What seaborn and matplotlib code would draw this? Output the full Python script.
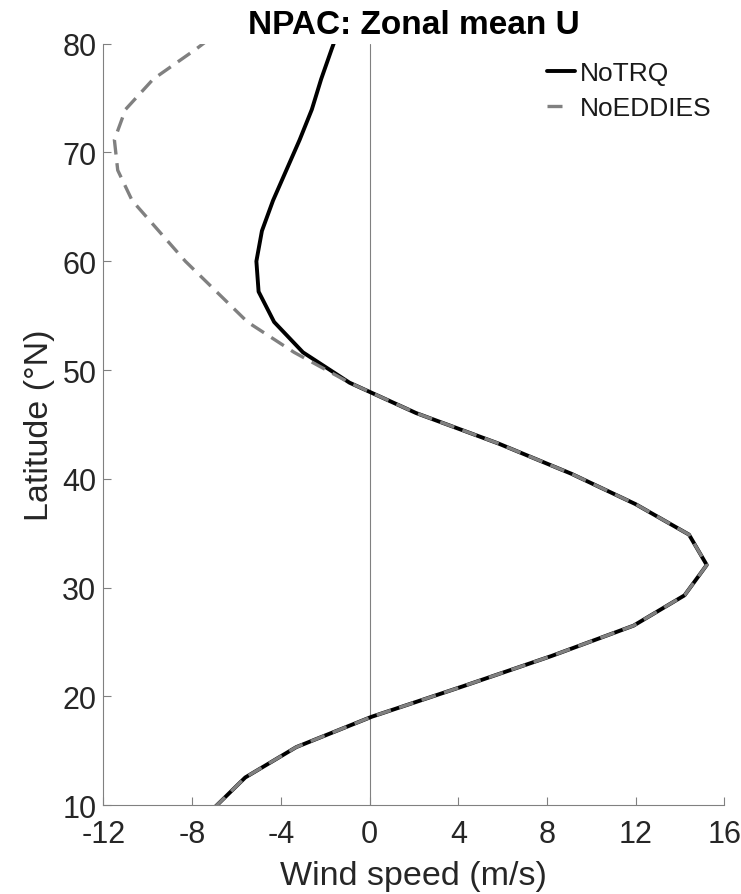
import numpy as np
import pandas as pd
import matplotlib
matplotlib.use("Agg")
import matplotlib.pyplot as plt
import seaborn as sns

# Gaussian-grid latitudes (deg N)
lat = [9.77, 12.56, 15.35, 18.14, 20.93, 23.72, 26.51, 29.30, 32.09, 34.88,
       37.67, 40.47, 43.26, 46.05, 48.84, 51.63, 54.42, 57.21, 60.00, 62.79,
       65.58, 68.37, 71.16, 73.95, 76.74, 79.53, 82.32]
# Zonal mean U (m/s)
u_notrq = [-7.0, -5.6, -3.3, 0.1, 4.2, 8.2, 11.9, 14.2, 15.2, 14.4,
           12.0, 9.1, 5.8, 2.1, -0.9, -3.0, -4.3, -5.0, -5.1, -4.85,
           -4.35, -3.75, -3.15, -2.6, -2.18, -1.7, -1.2]
u_noeddies = [-7.0, -5.6, -3.3, 0.1, 4.2, 8.2, 11.9, 14.2, 15.2, 14.4,
              12.0, 9.1, 5.8, 2.1, -0.9, -3.4, -5.5, -6.9, -8.3, -9.5,
              -10.7, -11.35, -11.5, -11.0, -9.75, -7.8, -6.0]
series = ["NoTRQ", "NoEDDIES"]
xticks = [-12, -8, -4, 0, 4, 8, 12, 16]
yticks = [10, 20, 30, 40, 50, 60, 70, 80]

sns.set_style("ticks")
plt.rcParams['font.family'] = ['Liberation Sans', 'DejaVu Sans']
plt.rcParams['axes.unicode_minus'] = False

df = pd.concat([
    pd.DataFrame({"lat": lat, "u": u_notrq, "run": series[0]}),
    pd.DataFrame({"lat": lat, "u": u_noeddies, "run": series[1]}),
])

fig = plt.figure(figsize=(7.41, 8.95), dpi=100)
ax = fig.add_axes([0.1394, 0.0991, 0.9777 - 0.1394, 0.9501 - 0.0991])

ax.axvline(0, color="#808080", lw=0.8, zorder=1)

sns.lineplot(data=df[df.run == series[0]], x="u", y="lat", orient="y",
             color="black", lw=2.8, ax=ax, label=series[0], zorder=3)
sns.lineplot(data=df[df.run == series[1]], x="u", y="lat", orient="y",
             color="#808080", lw=2.4, ax=ax, label=series[1], zorder=4)
ax.lines[-1].set_dashes((4.5, 2.6))

ax.set_xlim(-12, 16)
ax.set_ylim(10, 80)
ax.set_xticks(xticks)
ax.set_yticks(yticks)
ax.tick_params(bottom=True, left=True, top=False, right=False,
               direction="in", length=5.5, width=0.8, color="#808080",
               labelsize=22, labelcolor="#262626")
ax.tick_params(axis="x", pad=10)
ax.tick_params(axis="y", pad=5)
for s in ["top", "right"]:
    ax.spines[s].set_visible(False)
for s in ["left", "bottom"]:
    ax.spines[s].set_color("#808080")
    ax.spines[s].set_linewidth(0.8)

ax.set_xlabel("Wind speed (m/s)", fontsize=24.5, color="#262626", labelpad=8)
ax.set_ylabel("Latitude (°N)", fontsize=24.5, color="#262626", labelpad=5)
ax.set_title("NPAC: Zonal mean U", fontsize=24, fontweight="bold", pad=8,
             color="black")

leg = ax.legend(loc="upper right", bbox_to_anchor=(1.009, 1.001), frameon=False,
                fontsize=19, handlelength=1.05, handletextpad=0.2,
                labelspacing=0.4, borderaxespad=0.3)
for t in leg.get_texts():
    t.set_color("#1a1a1a")
leg.get_lines()[1].set_dashes((4.5, 4.0))

fig.savefig("out.png", dpi=100)
